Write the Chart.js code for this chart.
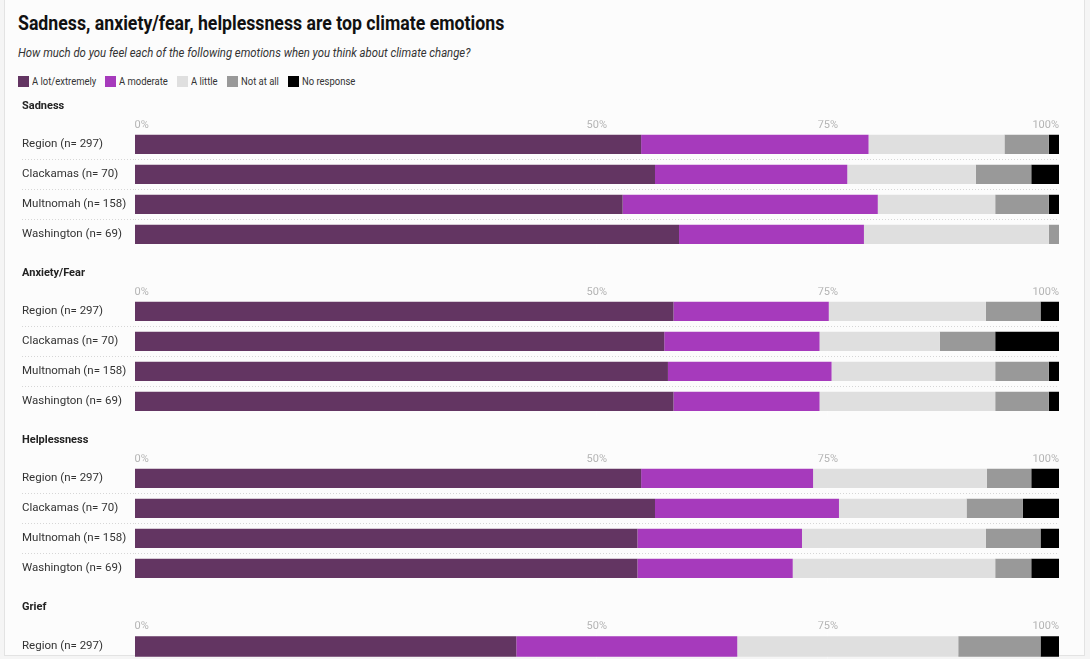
<!DOCTYPE html>
<html>
<head>
<meta charset="utf-8">
<title>Climate emotions</title>
<script src="https://cdn.jsdelivr.net/npm/chart.js@4"></script>
<style>
  body { margin: 0; width: 1090px; height: 659px; overflow: hidden; background: #f5f5f5; font-family: Roboto, sans-serif; position: relative; }
  #frame { position: absolute; left: 4px; top: -2px; width: 1079px; height: 656px; background: #fcfcfc; border: 1px solid #e3e3e3; }
  h1 { position: absolute; left: 18px; top: 13px; margin: 0; font-size: 20px; line-height: 20px; font-weight: 700; color: #111; white-space: nowrap; transform: scaleX(0.885); transform-origin: left; }
  .sub { position: absolute; left: 18px; top: 47px; font-size: 12px; line-height: 12px; font-style: italic; color: #333; white-space: nowrap; transform: scaleX(0.944); transform-origin: left; }
  .legend { position: absolute; left: 18px; top: 76px; display: flex; font-size: 11px; line-height: 11px; color: #333; }
  .legend .item { display: flex; align-items: center; margin-right: 9px; }
  .legend i { width: 11px; height: 11px; margin-right: 3px; display: inline-block; }
  .legend b { font-weight: normal; display: inline-block; transform-origin: left; white-space: nowrap; }
  canvas { position: absolute; left: 0; }
</style>
</head>
<body>
<div id="frame"></div>
<h1>Sadness, anxiety/fear, helplessness are top climate emotions</h1>
<div class="sub">How much do you feel each of the following emotions when you think about climate change?</div>
<div class="legend" id="legend"></div>
<canvas id="sadness" style="top:95px"></canvas>
<canvas id="anxiety" style="top:262px"></canvas>
<canvas id="helplessness" style="top:429px"></canvas>
<canvas id="grief" style="top:596px"></canvas>

<script>
const rows = ['Region (n= 297)', 'Clackamas (n= 70)', 'Multnomah (n= 158)', 'Washington (n= 69)'];
const responses = ['A lot/extremely', 'A moderate', 'A little', 'Not at all', 'No response'];
const responseColors = ['#633562', '#a63abc', '#dfdfdf', '#999999', '#000000'];
const xTicks = [0, 50, 75, 100];

// Sadness (%), one value per row
const sadnessLot      = [54.8, 56.3, 52.8, 58.9];
const sadnessModerate = [24.6, 20.8, 27.6, 20.0];
const sadnessLittle   = [14.7, 13.9, 12.7, 20.0];
const sadnessNot      = [4.8, 6.0, 5.8, 1.1];
const sadnessNoResp   = [1.1, 3.0, 1.1, 0];

// Anxiety/Fear
const anxietyLot      = [58.3, 57.3, 57.7, 58.3];
const anxietyModerate = [16.8, 16.8, 17.7, 15.8];
const anxietyLittle   = [17.0, 13.0, 17.7, 19.0];
const anxietyNot      = [5.9, 6.0, 5.8, 5.8];
const anxietyNoResp   = [2.0, 6.9, 1.1, 1.1];

// Helplessness
const helplessLot      = [54.8, 56.3, 54.4, 54.4];
const helplessModerate = [18.6, 19.9, 17.8, 16.8];
const helplessLittle   = [18.8, 13.8, 19.9, 21.9];
const helplessNot      = [4.8, 6.1, 5.9, 3.9];
const helplessNoResp   = [3.0, 3.9, 2.0, 3.0];

// Grief (only the first row is visible)
const griefLot      = [41.3];
const griefModerate = [23.9];
const griefLittle   = [23.9];
const griefNot      = [8.9];
const griefNoResp   = [2.0];

const sections = [
    { id: 'sadness', title: 'Sadness', labels: rows,
      series: [sadnessLot, sadnessModerate, sadnessLittle, sadnessNot, sadnessNoResp] },
    { id: 'anxiety', title: 'Anxiety/Fear', labels: rows,
      series: [anxietyLot, anxietyModerate, anxietyLittle, anxietyNot, anxietyNoResp] },
    { id: 'helplessness', title: 'Helplessness', labels: rows,
      series: [helplessLot, helplessModerate, helplessLittle, helplessNot, helplessNoResp] },
    { id: 'grief', title: 'Grief', labels: rows.slice(0, 1),
      series: [griefLot, griefModerate, griefLittle, griefNot, griefNoResp] }
];

// HTML legend (text squeezed a bit to match the narrow look of the original)
const legend = document.getElementById('legend');
responses.forEach((r, i) => {
    legend.innerHTML += `<span class="item"><i style="background:${responseColors[i]}"></i><b>${r}</b></span>`;
});
legend.querySelectorAll('b').forEach(b => {
    const w = b.offsetWidth;
    b.style.transform = 'scaleX(0.86)';
    b.style.marginRight = (-w * 0.14) + 'px';
});

const rowHeight = 29.6;
const font = 'Roboto';

// dotted separators only between rows
function sepColor(ctx) {
    return (ctx.type !== 'tick' || ctx.index === 0) ? 'rgba(0,0,0,0)' : '#d6d6d6';
}

function createChart(section) {
    const canvas = document.getElementById(section.id);
    canvas.width = 1090;
    canvas.height = Math.round(36.4 + rowHeight * section.labels.length + 14.6);

    new Chart(canvas.getContext('2d'), {
        type: 'bar',
        data: {
            labels: section.labels,
            datasets: responses.map((r, i) => ({
                label: r,
                data: section.series[i],
                backgroundColor: responseColors[i],
                borderWidth: 0,
                barPercentage: 0.64,
                categoryPercentage: 1
            }))
        },
        options: {
            indexAxis: 'y',
            responsive: false,
            animation: false,
            events: [],
            layout: { padding: { left: 22, right: 31, top: 0, bottom: 14.6 } },
            plugins: {
                legend: { display: false },
                tooltip: { enabled: false },
                title: {
                    display: true,
                    text: section.title,
                    align: 'start',
                    color: '#222',
                    font: { family: font, size: 11, weight: 'bold' },
                    padding: { top: 5, bottom: 7 }
                }
            },
            scales: {
                x: {
                    type: 'linear',
                    position: 'top',
                    stacked: true,
                    min: 0,
                    max: 100,
                    z: 1,
                    afterBuildTicks: (scale) => { scale.ticks = xTicks.map(v => ({ value: v })); },
                    grid: {
                        drawTicks: false,
                        color: (ctx) => (ctx.tick && (ctx.tick.value === 50 || ctx.tick.value === 75))
                            ? 'rgba(255,255,255,0.3)' : 'rgba(0,0,0,0)'
                    },
                    border: { display: false },
                    ticks: {
                        align: 'inner',
                        padding: -2,
                        color: '#b3b3b3',
                        font: { family: font, size: 11 },
                        callback: (v) => v + '%'
                    }
                },
                y: {
                    stacked: true,
                    afterFit: (scale) => { scale.width = 112.5; },
                    grid: {
                        offset: true,
                        tickLength: 112.5,
                        color: sepColor,
                        tickColor: sepColor,
                        tickBorderDash: [1, 2]
                    },
                    border: { display: false, dash: [1, 2] },
                    ticks: {
                        crossAlign: 'far',
                        padding: 0,
                        color: '#333',
                        font: { family: font, size: 11.5 }
                    }
                }
            }
        }
    });
}

sections.forEach(createChart);
</script>
</body>
</html>
